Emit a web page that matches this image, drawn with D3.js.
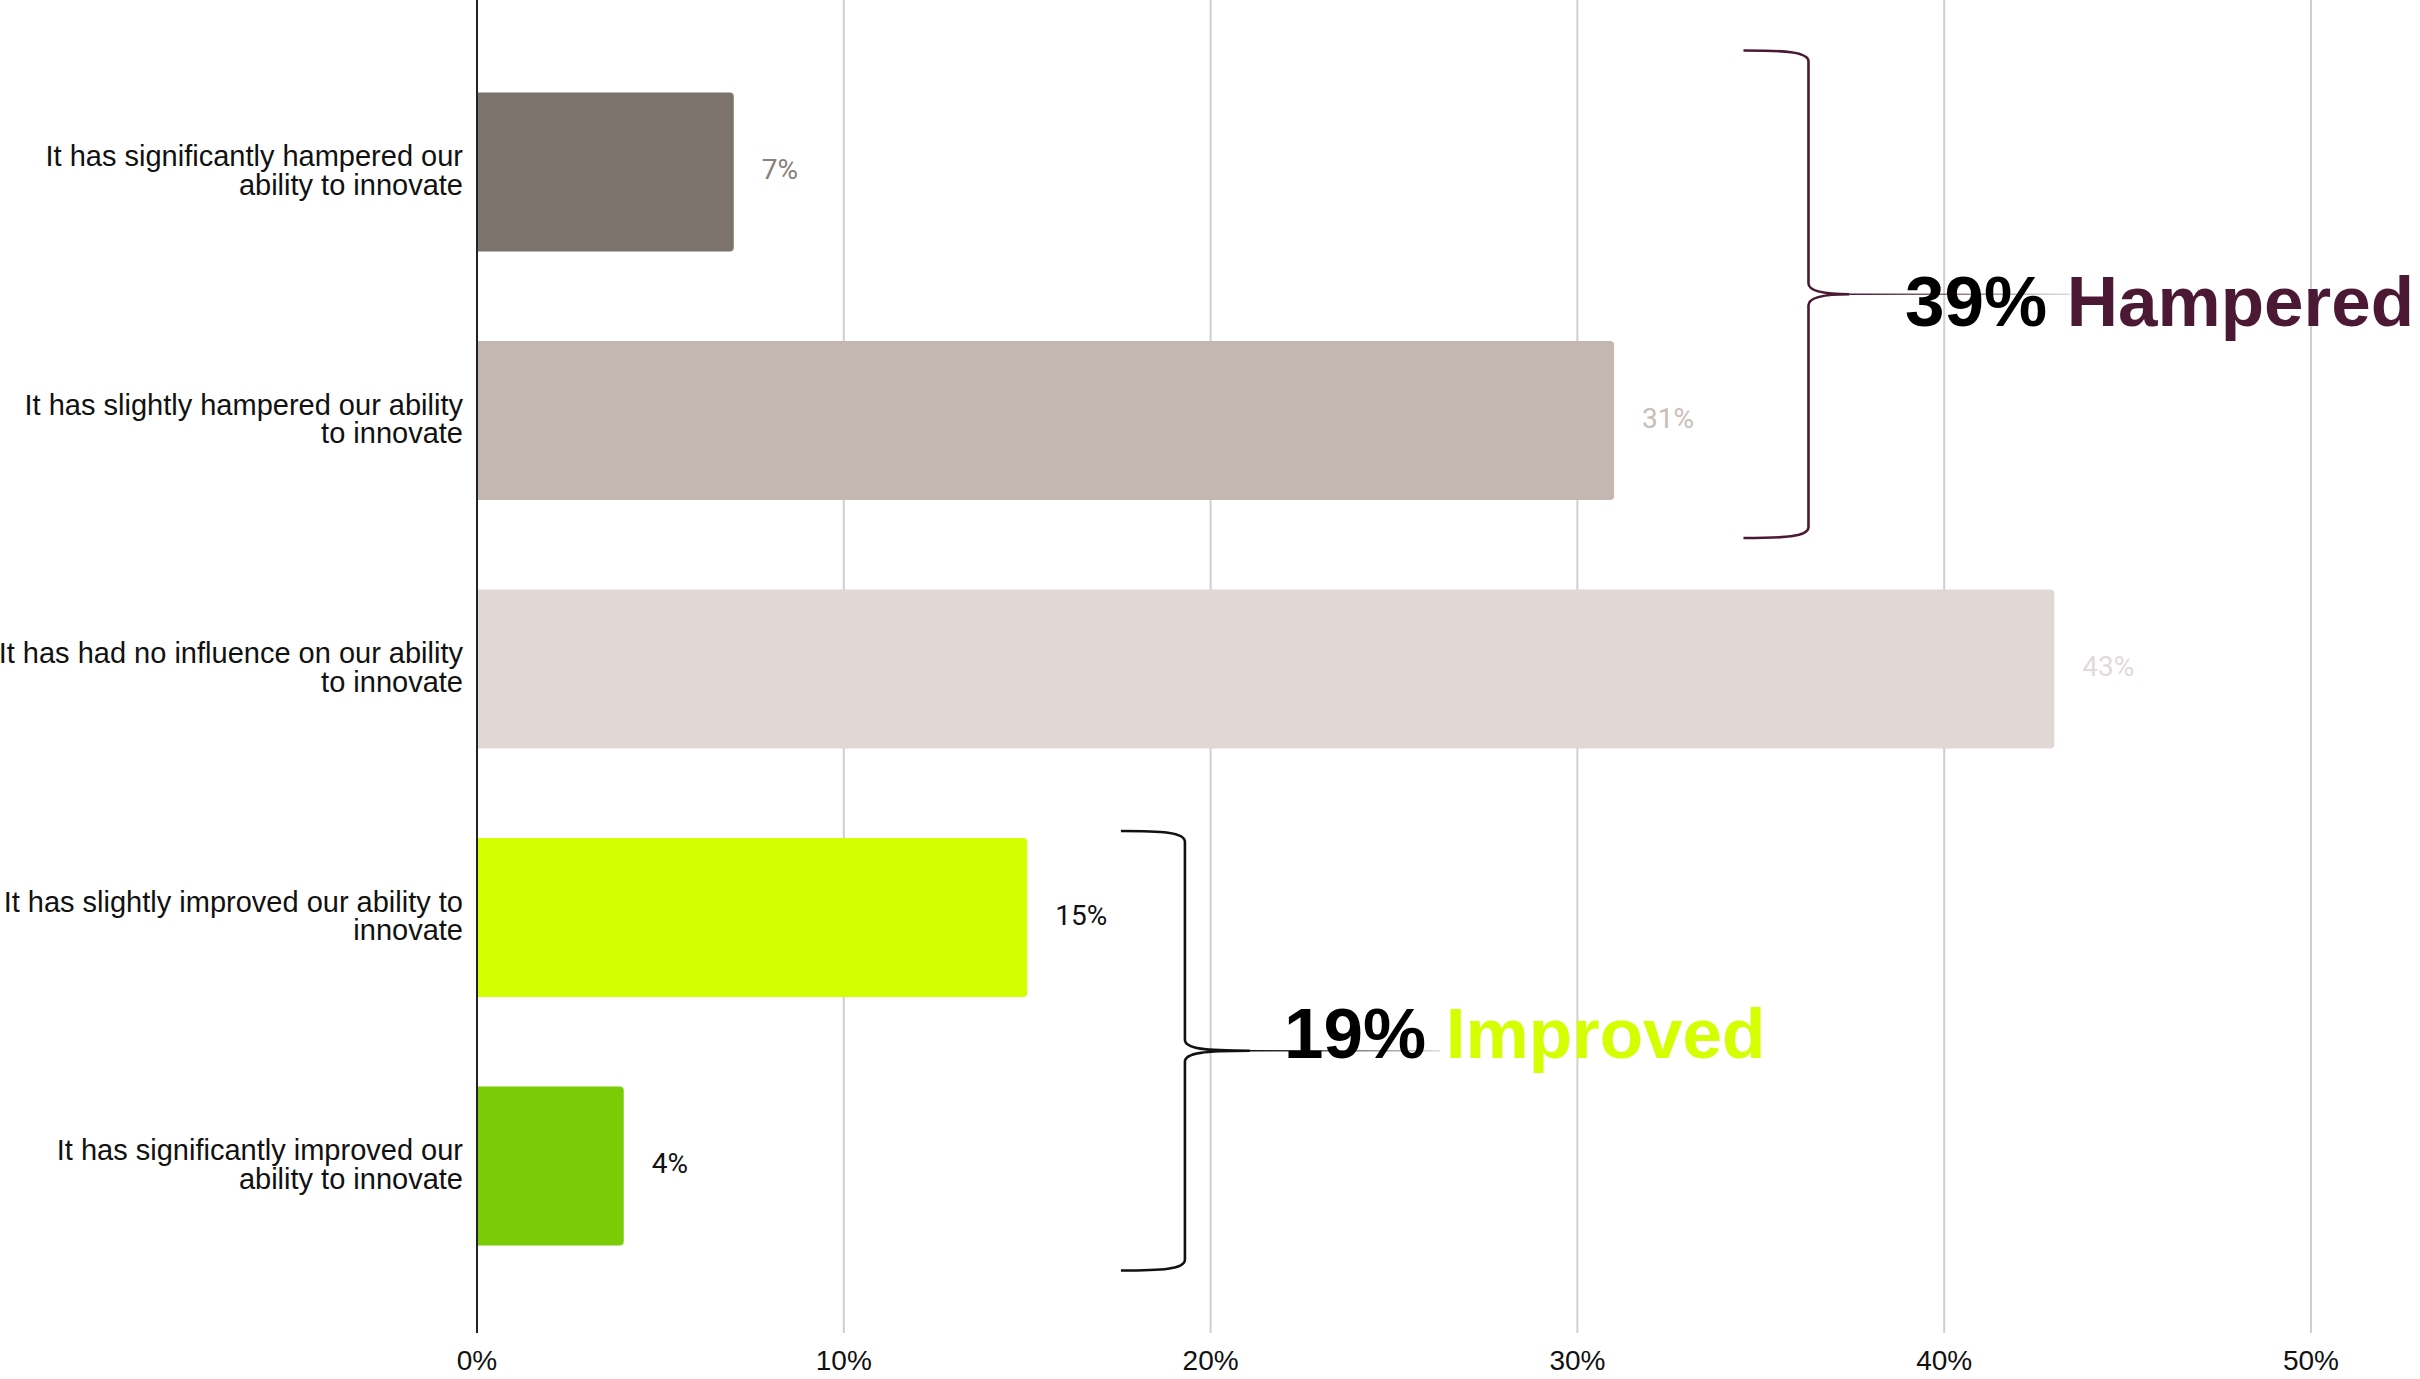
<!DOCTYPE html>
<html>
<head>
<meta charset="utf-8">
<script src="https://cdn.jsdelivr.net/npm/d3@7"></script>
<style>
  html, body { margin: 0; padding: 0; background: #fff; }
  svg { display: block; }
</style>
</head>
<body>
<svg id="chart" width="2420" height="1379"></svg>
<script>
// ---- data ----
const categories = [
  ["It has significantly hampered our", "ability to innovate"],
  ["It has slightly hampered our ability", "to innovate"],
  ["It has had no influence on our ability", "to innovate"],
  ["It has slightly improved our ability to", "innovate"],
  ["It has significantly improved our", "ability to innovate"]
];
const values = [7, 31, 43, 15, 4];
const barColors = ["#7d736d", "#c4b7b1", "#e1d8d6", "#d4ff00", "#79cc06"];
const valueLabelColors = ["#8a807b", "#c9bdb8", "#e2dad8", "#111111", "#111111"];
const tickValues = [0, 10, 20, 30, 40, 50];
const tickLabels = ["0%", "10%", "20%", "30%", "40%", "50%"];
const groupPercents = ["39%", "19%"];
const groupWords = ["Hampered", "Improved"];
const groupWordColors = ["#4b1934", "#d4ff00"];
const groupBraceColors = ["#4b1934", "#111111"];
const groupSpans = [[0, 1], [3, 4]];

// ---- layout ----
const svg = d3.select("#chart");
const x0 = 477, x50 = 2311;
const x = d3.scaleLinear().domain([0, 50]).range([x0, x50]);
const y = d3.scaleBand().domain(d3.range(categories.length))
  .range([47.75, 1290.25]).paddingInner(0.36).paddingOuter(0.18);
const plotTop = 0, plotBottom = 1333;

// gridlines
svg.append("g").selectAll("line").data(tickValues.slice(1)).join("line")
  .attr("x1", d => x(d)).attr("x2", d => x(d))
  .attr("y1", plotTop).attr("y2", plotBottom)
  .attr("stroke", "#cfcfcf").attr("stroke-width", 2);

// bars with slight right rounding
const r = 4;
svg.append("g").selectAll("path").data(values).join("path")
  .attr("d", (d, i) => {
    const x1 = x(0), x2 = x(d), t = y(i), b = y(i) + y.bandwidth();
    return `M${x1},${t}H${x2 - r}Q${x2},${t} ${x2},${t + r}V${b - r}Q${x2},${b} ${x2 - r},${b}H${x1}Z`;
  })
  .attr("fill", (d, i) => barColors[i]);

// zero axis line
svg.append("line").attr("x1", x(0)).attr("x2", x(0))
  .attr("y1", plotTop).attr("y2", plotBottom)
  .attr("stroke", "#222").attr("stroke-width", 2);

// value labels
svg.append("g").selectAll("text").data(values).join("text")
  .attr("x", d => x(d) + 28)
  .attr("y", (d, i) => y(i) + y.bandwidth() / 2 - 3)
  .attr("dy", "0.36em")
  .attr("font-family", "Roboto, sans-serif")
  .attr("font-size", 28)
  .attr("fill", (d, i) => valueLabelColors[i])
  .text(d => d + "%");

// category labels
const catG = svg.append("g");
categories.forEach((lines, i) => {
  const cy = y(i) + y.bandwidth() / 2;
  const t = catG.append("text")
    .attr("text-anchor", "end")
    .attr("font-family", "'Liberation Sans', Arial, sans-serif")
    .attr("font-size", 29)
    .attr("fill", "#111");
  lines.forEach((ln, k) => {
    t.append("tspan").attr("x", 463).attr("y", cy - 6 + k * 28.5).text(ln);
  });
});

// tick labels
svg.append("g").selectAll("text").data(tickValues).join("text")
  .attr("x", d => x(d)).attr("y", 1370)
  .attr("text-anchor", "middle")
  .attr("font-family", "'Liberation Sans', Arial, sans-serif")
  .attr("font-size", 28)
  .attr("fill", "#111")
  .text((d, i) => tickLabels[i]);

// ---- braces ----
const defs = svg.append("defs");
const braceCfg = [
  { vx: 36.3, tipDx: -65, midDx: 41, topPad: 42, botPad: 38, lineEnd: 2070, textX: 1905, textDy: 32 },
  { vx: 19.3, tipDx: -64, midDx: 65, topPad: 7, botPad: 25, lineEnd: 1440, textX: 1284, textDy: 7 }
];
groupSpans.forEach((span, gi) => {
  const c = braceCfg[gi];
  const col = groupBraceColors[gi];
  const vx = x(c.vx);
  const tipX = vx + c.tipDx;
  const top = y(span[0]) - c.topPad;
  const bot = y(span[1]) + y.bandwidth() + c.botPad;
  const mid = (top + bot) / 2;
  const midX = vx + c.midDx;
  const p = d3.path();
  p.moveTo(tipX, top);
  p.bezierCurveTo(tipX + 40, top, vx, top + 1, vx, top + 11);
  p.lineTo(vx, mid - 11);
  p.bezierCurveTo(vx, mid - 2, vx + 20, mid, midX, mid);
  p.bezierCurveTo(vx + 20, mid, vx, mid + 2, vx, mid + 11);
  p.lineTo(vx, bot - 11);
  p.bezierCurveTo(vx, bot - 1, tipX + 40, bot, tipX, bot);
  svg.append("path").attr("d", p.toString())
    .attr("fill", "none").attr("stroke", col).attr("stroke-width", 2.6);

  const gid = "fade" + gi;
  const grad = defs.append("linearGradient").attr("id", gid)
    .attr("gradientUnits", "userSpaceOnUse")
    .attr("x1", midX).attr("x2", c.lineEnd).attr("y1", 0).attr("y2", 0);
  grad.append("stop").attr("offset", 0).attr("stop-color", col).attr("stop-opacity", 1);
  grad.append("stop").attr("offset", 1).attr("stop-color", col).attr("stop-opacity", 0.15);
  svg.append("line").attr("x1", midX).attr("x2", c.lineEnd)
    .attr("y1", mid).attr("y2", mid)
    .attr("stroke", `url(#${gid})`).attr("stroke-width", 1.6);

  const t = svg.append("text")
    .attr("x", c.textX).attr("y", mid + c.textDy)
    .attr("font-family", "'Liberation Sans', Arial, sans-serif")
    .attr("font-weight", "bold").attr("font-size", 71);
  t.append("tspan").attr("fill", "#000").text(groupPercents[gi] + " ");
  t.append("tspan").attr("fill", groupWordColors[gi]).text(groupWords[gi]);
});
</script>
</body>
</html>
